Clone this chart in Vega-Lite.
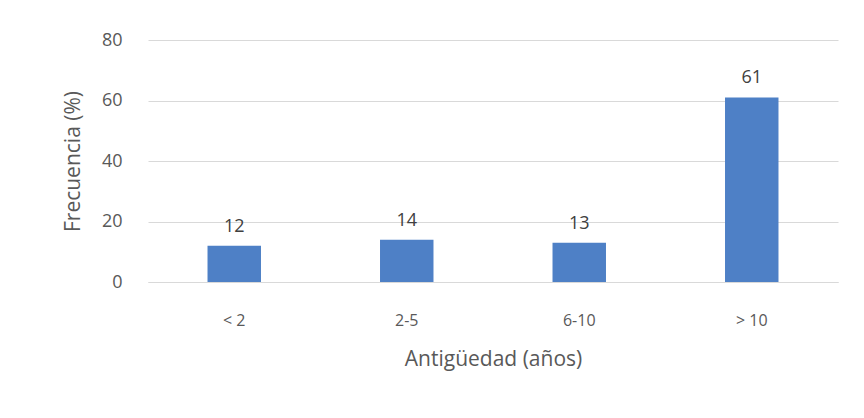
{
  "$schema": "https://vega.github.io/schema/vega-lite/v6.json",
  "autosize": "none",
  "width": 690,
  "height": 242,
  "padding": {"left": 148, "top": 40, "right": 26, "bottom": 136},
  "background": "white",
  "data": {"values": [
    {"cat": "< 2", "val": 12},
    {"cat": "2-5", "val": 14},
    {"cat": "6-10", "val": 13},
    {"cat": "> 10", "val": 61}
  ]},
  "config": {
    "view": {"stroke": null},
    "font": "Open Sans",
    "axis": {"labelColor": "#595959", "titleColor": "#595959", "labelFont": "Open Sans", "titleFont": "Open Sans", "titleFontWeight": "normal"}
  },
  "encoding": {
    "x": {"field": "cat", "type": "nominal", "sort": null,
      "scale": {"paddingInner": 0.69, "paddingOuter": 0.345},
      "axis": {"title": "Antigüedad (años)", "labelAngle": 0, "labelFontSize": 16, "titleFontSize": 21, "ticks": false, "domain": true, "domainColor": "#d9d9d9", "labelPadding": 30, "titlePadding": 20}},
    "y": {"field": "val", "type": "quantitative",
      "scale": {"domain": [0, 80]},
      "axis": {"title": "Frecuencia (%)", "values": [0, 20, 40, 60, 80], "labelFontSize": 18, "titleFontSize": 21, "ticks": false, "domain": false, "gridColor": "#d9d9d9", "labelPadding": 26, "titlePadding": 18}}
  },
  "layer": [
    {"mark": {"type": "bar", "color": "#4E80C6"}},
    {"mark": {"type": "text", "baseline": "bottom", "dy": -10, "fontSize": 18, "color": "#404040", "font": "Open Sans"},
      "encoding": {"text": {"field": "val", "type": "quantitative"}}}
  ]
}
